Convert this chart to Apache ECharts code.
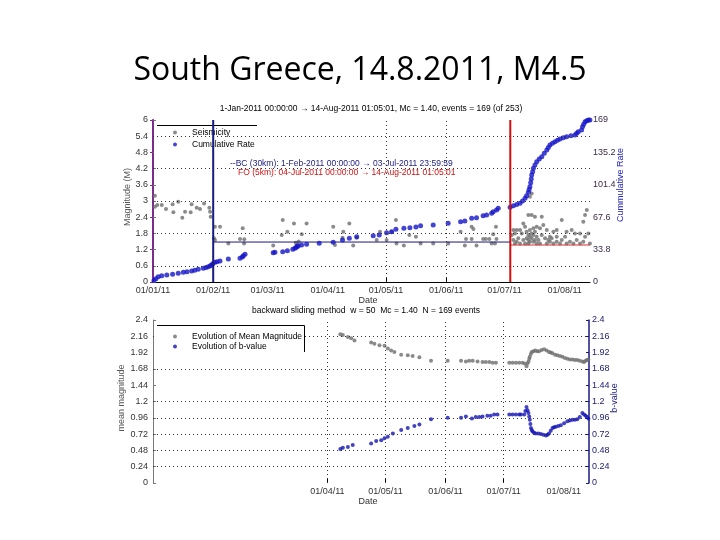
<!DOCTYPE html>
<html><head><meta charset="utf-8">
<script src="https://cdn.jsdelivr.net/npm/echarts@6/dist/echarts.min.js"></script>
<style>html,body{margin:0;padding:0;background:#fff}#c{width:720px;height:540px}</style>
</head><body><div id="c"></div><script>
// x values are days since 1-Jan-2011 00:00:00
const dayMax = 225.045; // 14-Aug-2011 01:05:01
const monthTickDays = [0, 31, 59, 90, 120, 151, 181, 212];
const monthTickLabels = ['01/01/11','01/02/11','01/03/11','01/04/11','01/05/11','01/06/11','01/07/11','01/08/11'];
const topGridDays = [120, 151];
const topGridMags = [0.6, 1.8, 3.0, 4.2, 5.4];
const botLabelDays = [90, 120, 151, 181, 212];
const botGridDays = [90, 120, 151, 181];
const botGridVals = [0.24, 0.48, 0.72, 0.96, 1.2, 1.68, 2.16];

const bcStartDay = 31, foStartDay = 184, bcLevel = 1.48, foLevel = 1.37;

// Seismicity: [day, magnitude]
const seismicity = [
[1.0,3.19],[1.0,2.79],[2.2,2.85],[4.5,2.85],[6.7,2.70],[10.1,2.88],[10.5,2.58],[13.0,2.97],[15.1,2.38],[16.5,2.60],
[19.4,2.58],[19.9,2.88],[22.5,2.75],[24.2,2.70],[26.3,2.91],[29.0,2.75],[29.4,2.60],[29.7,2.42],
[31.9,2.05],[34.5,2.05],[31.4,1.62],[31.9,1.56],[38.8,1.43],[44.8,1.59],[46.2,1.99],[47.0,1.58],[46.9,1.43],
[61.9,1.35],[66.8,2.30],[66.3,1.74],[69.2,1.86],[72.6,2.17],[76.6,1.77],[79.1,2.17],[74.0,1.37],[73.5,1.45],[75.0,1.50],
[92.8,2.05],[93.7,1.37],[98.0,1.86],[97.6,1.64],[101.1,2.17],[103.1,1.35],[104.9,1.64],[115.2,1.56],[116.9,1.86],
[120.3,1.56],[125.1,2.30],[122.9,1.86],[125.4,1.43],[129.2,1.35],[132.0,1.74],[135.4,1.68],[137.8,1.43],[144.3,1.43],
[152.0,1.43],[158.4,1.86],[160.6,1.35],[161.2,1.59],[164.1,2.05],[165.0,1.96],[164.1,1.59],[166.6,1.35],[170.0,1.59],
[171.4,1.59],[173.2,1.59],[174.4,1.43],[175.2,1.77],[176.6,2.05],[176.9,1.59],[176.1,1.43],
[195.0,3.28],[194.1,3.16],[193.3,2.48],[195.0,2.48],[200.2,2.42],[196.7,2.42],[190.7,2.17],[191.6,2.05],[189.0,1.93],
[187.3,1.93],[185.6,1.93],[186.4,1.80],[184.7,1.74],[189.9,1.80],[192.4,1.86],[194.1,1.93],[195.9,1.99],[197.6,2.05],
[199.3,1.99],[201.0,2.11],[195.9,1.74],[193.3,1.74],[195.0,1.62],[196.7,1.56],[194.1,1.49],[191.6,1.43],[189.0,1.43],
[186.4,1.43],[197.6,1.43],[199.3,1.43],[202.8,1.43],[204.4,1.49],[206.2,1.43],[207.9,1.49],[209.6,1.43],[213.0,1.43],
[216.5,1.43],[219.9,1.43],[221.6,1.49],[202.8,1.93],[206.2,1.86],[207.9,1.93],[210.5,2.30],[213.0,1.86],[215.6,1.93],
[217.3,1.80],[219.9,1.80],[221.6,2.23],[222.5,2.48],[223.4,2.67],[204.4,1.68],[207.9,1.68],[200.2,1.74],[201.9,1.62],
[192.4,1.62],[193.3,1.56],[194.1,1.68],[195.0,1.80],[196.7,1.86],[197.6,1.68],[198.5,1.56],[195.9,1.49],[193.3,1.43],
[190.7,1.56],[188.1,1.62],[187.3,1.49],[185.6,1.56],[203.6,1.56],[205.3,1.62],[210.5,1.56],[212.2,1.68],[214.7,1.49],
[218.2,1.56],[222.5,1.68],[224.2,1.80],[225.0,1.43]
];

// Cumulative rate: [day, cumulative number]
const cumulative = [
[0.5,1.5],[1.5,3.5],[2.7,5.5],[4.5,6.6],[7.1,7.3],[10.1,8.0],[13.0,9.0],[15.6,10.1],[17.5,10.8],[19.9,11.5],[21.5,12.3],
[23.3,13.2],[25.9,14.3],[27.3,15.1],[28.5,16.0],[29.5,16.9],[30.2,17.7],[30.8,19.0],[31.9,20.5],[33.0,21.2],[34.5,21.9],
[38.8,24.0],[44.8,24.7],[46.0,26.0],[46.5,27.4],[47.4,28.9],
[61.9,30.6],[62.8,31.0],[66.8,31.6],[69.2,32.7],[72.0,34.2],[73.1,35.2],[73.8,36.3],[74.3,37.0],[74.8,37.9],[76.5,38.6],
[79.1,39.3],[85.6,40.4],
[92.8,41.4],[97.6,43.8],[101.1,45.6],[104.9,47.3],[113.4,48.3],[116.5,49.0],[120.3,51.4],[122.9,52.5],[125.1,55.0],
[129.2,56.0],[132.3,56.6],[135.4,57.4],[137.8,58.7],[144.3,59.5],[152.0,61.2],[158.4,62.9],[160.6,63.6],[164.1,66.4],
[166.6,67.1],[170.0,69.2],[171.8,69.9],[174.4,71.7],[175.2,73.3],[176.9,75.1],[177.8,76.9],
[183.9,78.0],[185.6,79.6],[187.3,80.8],[189.0,82.1],[190.3,84.5],[191.6,87.3],[192.4,90.0],[193.3,93.6],[193.7,96.5],
[194.1,99.4],[194.5,103.5],[194.8,107.5],[195.0,111.6],[195.5,115.0],[195.9,118.6],[196.7,122.0],[197.6,125.5],
[198.9,128.2],[200.2,130.7],[201.5,134.2],[202.8,137.7],[203.6,140.3],[204.4,142.9],[205.7,144.7],[207.0,146.4],
[208.3,147.8],[209.6,149.2],[211.3,150.4],[213.0,151.6],[215.2,152.5],[217.3,153.4],[218.2,155.1],[219.0,156.8],
[220.7,158.6],[221.2,162.0],[221.8,164.6],[222.5,167.2],[223.4,168.3],[224.2,169],[225.0,169]
];

// Evolution of mean magnitude: [day, value]
const meanMag = [
[96.7,2.19],[98.0,2.18],[100.6,2.15],[102.3,2.13],[104.0,2.10],[112.6,2.07],[114.3,2.05],[116.9,2.03],[119.5,2.02],
[121.2,1.98],[122.9,1.95],[124.6,1.93],[128.1,1.89],[131.5,1.88],[134.0,1.87],[137.5,1.85],[143.5,1.80],[152.1,1.80],
[159.0,1.80],[161.5,1.79],[163.2,1.80],[165.0,1.80],[167.5,1.79],[170.1,1.78],[171.8,1.78],[173.6,1.78],[175.3,1.77],
[177.0,1.77],[183.9,1.77],[185.6,1.77],[187.3,1.77],[189.0,1.77],[190.7,1.77],[191.8,1.76],[192.8,1.72],[193.3,1.76],
[193.8,1.79],[194.2,1.83],[194.5,1.86],[195.0,1.90],[195.5,1.93],[196.4,1.94],[197.3,1.95],[198.3,1.94],[199.3,1.94],
[200.6,1.96],[201.9,1.97],[203.2,1.95],[204.4,1.93],[205.3,1.92],[206.2,1.91],[207.5,1.89],[208.7,1.88],[210.0,1.87],
[211.3,1.86],[212.6,1.84],[213.9,1.83],[215.2,1.82],[216.5,1.82],[217.8,1.81],[219.0,1.81],[220.3,1.80],[221.6,1.79],
[222.5,1.78],[223.3,1.80],[224.0,1.81],[224.7,1.82]
];

// Evolution of b-value: [day, value]
const bValue = [
[96.7,0.50],[98.0,0.52],[100.6,0.53],[103.1,0.56],[112.6,0.58],[115.2,0.62],[117.8,0.63],[119.5,0.66],[121.2,0.68],
[123.8,0.73],[128.1,0.78],[131.5,0.81],[134.9,0.84],[137.5,0.86],[143.5,0.94],[152.1,0.96],[159.0,0.96],[161.5,0.98],
[164.6,0.95],[166.6,0.97],[168.4,0.97],[170.1,0.98],[172.6,0.99],[174.3,0.99],[176.1,1.01],[177.8,1.01],[183.9,1.01],
[185.6,1.01],[187.3,1.01],[189.0,1.01],[189.9,1.01],[191.6,1.01],[192.2,1.06],[192.8,1.12],[193.3,1.07],[193.8,1.03],
[194.2,0.98],[194.5,0.93],[194.8,0.87],[195.1,0.81],[195.5,0.78],[195.9,0.76],[196.7,0.74],[197.6,0.73],[198.9,0.73],
[200.2,0.72],[201.5,0.71],[202.8,0.70],[203.6,0.71],[204.4,0.73],[205.3,0.77],[206.2,0.81],[207.0,0.82],[207.9,0.83],
[209.2,0.84],[210.5,0.85],[212.2,0.88],[213.9,0.91],[215.2,0.92],[216.5,0.93],[217.8,0.93],[219.0,0.94],[220.3,0.97],
[221.6,1.03],[222.5,1.01],[223.3,0.99],[224.0,0.97],[224.7,0.95]
];

const FONT = 'Liberation Sans';
const fmtNum = v => String(+(+v).toFixed(2));
const dateLabel = v => { const i = monthTickDays.indexOf(v); return i >= 0 ? monthTickLabels[i] : ''; };
const dotted = { type: [1, 3], color: '#333', width: 1 };
const mlStyle = { silent: true, symbol: 'none', animation: false, label: { show: false }, lineStyle: dotted };

const chart = echarts.init(document.getElementById('c'), null, { renderer: 'canvas' });
const axLabel = { fontSize: 9, color: '#333', fontFamily: FONT };

chart.setOption({
  animation: false,
  backgroundColor: '#fff',
  title: { text: 'South Greece, 14.8.2011, M4.5', left: 'center', top: 50,
    textStyle: { fontFamily: 'Open Sans', fontSize: 32, fontWeight: 'normal', color: '#000' } },
  grid: [
    { left: 153, right: 130, top: 120, height: 162 },
    { left: 153, right: 131, top: 320, height: 163 }
  ],
  legend: [
    { data: ['Seismicity', 'Cumulative Rate'], orient: 'vertical', left: 154, top: 121, itemGap: 3,
      padding: [7, 6, 4, 19], backgroundColor: '#fff',
      itemWidth: 24, itemHeight: 4, icon: 'circle', z: 4,
      textStyle: { fontSize: 8.5, color: '#000', fontFamily: FONT } },
    { data: ['Evolution of Mean Magnitude', 'Evolution of b-value'], orient: 'vertical', left: 154, top: 326,
      padding: [6, 2, 3, 19], backgroundColor: '#fff',
      itemGap: 1, itemWidth: 24, itemHeight: 4, icon: 'circle', z: 10,
      textStyle: { fontSize: 8.5, color: '#000', fontFamily: FONT } }
  ],
  xAxis: [
    { type: 'value', gridIndex: 0, min: 0, max: dayMax, axisLine: { show: false }, splitLine: { show: false },
      axisTick: { show: true, inside: true, length: 4, customValues: topGridDays, lineStyle: { color: '#000' } },
      axisLabel: Object.assign({ customValues: monthTickDays, formatter: dateLabel, margin: 4 }, axLabel) },
    { type: 'value', gridIndex: 1, min: 0, max: dayMax, axisLine: { show: false }, splitLine: { show: false },
      axisTick: { show: true, inside: true, length: 4, customValues: botGridDays, lineStyle: { color: '#000' } },
      axisLabel: Object.assign({ customValues: botLabelDays, formatter: dateLabel, margin: 4 }, axLabel) },
    { type: 'value', gridIndex: 0, position: 'top', min: 0, max: dayMax, axisLine: { show: true, lineStyle: { color: '#000', width: 1 } },
      axisTick: { show: false }, axisLabel: { show: false }, splitLine: { show: false } }
  ],
  yAxis: [
    { type: 'value', gridIndex: 0, min: 0, max: 6, interval: 0.6, splitLine: { show: false },
      axisLine: { show: true, lineStyle: { color: '#777' } },
      axisTick: { show: true, inside: true, length: 3, lineStyle: { color: '#777' } },
      axisLabel: Object.assign({ formatter: fmtNum, margin: 5 }, axLabel) },
    { type: 'value', gridIndex: 0, position: 'right', min: 0, max: 169, interval: 33.8, splitLine: { show: false },
      axisLine: { show: true, lineStyle: { color: '#7b2c8c', width: 2 } },
      axisTick: { show: true, inside: true, length: 3, lineStyle: { color: '#7b2c8c' } },
      axisLabel: Object.assign({}, axLabel, { formatter: v => String(+(+v).toFixed(1)), margin: 3, color: '#3a2a48' }) },
    { type: 'value', gridIndex: 1, min: 0, max: 2.4, interval: 0.24, splitLine: { show: false },
      axisLine: { show: true, lineStyle: { color: '#777' } },
      axisTick: { show: true, inside: true, length: 3, lineStyle: { color: '#777' } },
      axisLabel: Object.assign({ formatter: fmtNum, margin: 5 }, axLabel) },
    { type: 'value', gridIndex: 1, position: 'right', min: 0, max: 2.4, interval: 0.24, splitLine: { show: false },
      axisLine: { show: true, lineStyle: { color: '#1a1a80', width: 1.5 } },
      axisTick: { show: true, inside: true, length: 3, lineStyle: { color: '#1a1a80' } },
      axisLabel: Object.assign({}, axLabel, { formatter: fmtNum, margin: 3, color: '#1a1a70' }) }
  ],
  series: [
    { name: 'Seismicity', type: 'scatter', xAxisIndex: 0, yAxisIndex: 0, data: seismicity, symbolSize: 4,
      itemStyle: { color: '#6e6e6e' }, z: 2,
      markLine: Object.assign({ data: topGridMags.map(v => ({ yAxis: v })).concat(topGridDays.map(d => ({ xAxis: d }))) }, mlStyle) },
    { name: 'Cumulative Rate', type: 'scatter', xAxisIndex: 0, yAxisIndex: 1, data: cumulative, symbolSize: 5,
      itemStyle: { color: '#1515c8' }, z: 3 },
    { name: 'BC period', type: 'line', xAxisIndex: 0, yAxisIndex: 0, data: [[bcStartDay, 0], [bcStartDay, 6]],
      showSymbol: false, lineStyle: { color: '#1a1a80', width: 2 }, z: 7 },
    { name: 'BC level', type: 'line', xAxisIndex: 0, yAxisIndex: 0, data: [[bcStartDay, bcLevel], [foStartDay, bcLevel]],
      showSymbol: false, lineStyle: { color: '#1a1a80', width: 1 }, z: 3 },
    { name: 'FO period', type: 'line', xAxisIndex: 0, yAxisIndex: 0, data: [[foStartDay, 0], [foStartDay, 6]],
      showSymbol: false, lineStyle: { color: '#d01010', width: 2 }, z: 7 },
    { name: 'FO level', type: 'line', xAxisIndex: 0, yAxisIndex: 0, data: [[foStartDay, foLevel], [dayMax, foLevel]],
      showSymbol: false, lineStyle: { color: '#d03030', width: 1 }, z: 3 },
    { name: 'Evolution of Mean Magnitude', type: 'scatter', xAxisIndex: 1, yAxisIndex: 2, data: meanMag, symbolSize: 4,
      itemStyle: { color: '#6e6e6e' }, z: 2,
      markLine: Object.assign({ data: botGridVals.map(v => ({ yAxis: v })).concat(botGridDays.map(d => ({ xAxis: d }))) }, mlStyle) },
    { name: 'Evolution of b-value', type: 'scatter', xAxisIndex: 1, yAxisIndex: 3, data: bValue, symbolSize: 4,
      itemStyle: { color: '#1414b4' }, z: 3 }
  ],
  graphic: [
    { type: 'line', shape: { x1: 157, y1: 125.5, x2: 257, y2: 125.5 }, style: { stroke: '#000', lineWidth: 1 }, z: 6 },
    { type: 'polyline', shape: { points: [[157, 325.5], [304.5, 325.5], [304.5, 352]] }, style: { stroke: '#000', lineWidth: 1, fill: null }, z: 12 },
    { type: 'text', x: 371, y: 109, z: 8, style: { text: '1-Jan-2011 00:00:00 \u2192 14-Aug-2011 01:05:01, Mc = 1.40, events = 169 (of 253)',
      fontSize: 8.5, fontFamily: FONT, fill: '#000', align: 'center', verticalAlign: 'middle' } },
    { type: 'text', x: 230, y: 164, z: 8, style: { text: '--BC (30km): 1-Feb-2011 00:00:00 \u2192 03-Jul-2011 23:59:59',
      fontSize: 8.5, fontFamily: FONT, fill: '#1a1a80', align: 'left', verticalAlign: 'middle' } },
    { type: 'text', x: 238, y: 173, z: 8, style: { text: 'FO (5km): 04-Jul-2011 00:00:00 \u2192 14-Aug-2011 01:05:01',
      fontSize: 8.5, fontFamily: FONT, fill: '#d01010', align: 'left', verticalAlign: 'middle' } },
    { type: 'text', x: 128, y: 197, rotation: Math.PI / 2, z: 8, style: { text: 'Magnitude (M)',
      fontSize: 9, fontFamily: FONT, fill: '#555', align: 'center', verticalAlign: 'middle' } },
    { type: 'text', x: 621, y: 185, rotation: Math.PI / 2, z: 8, style: { text: 'Cummulative Rate',
      fontSize: 9, fontFamily: FONT, fill: '#2222b0', align: 'center', verticalAlign: 'middle' } },
    { type: 'text', x: 368, y: 301, z: 8, style: { text: 'Date',
      fontSize: 9, fontFamily: FONT, fill: '#333', align: 'center', verticalAlign: 'middle' } },
    { type: 'text', x: 366, y: 311, z: 8, style: { text: 'backward sliding method  w = 50  Mc = 1.40  N = 169 events',
      fontSize: 8.5, fontFamily: FONT, fill: '#000', align: 'center', verticalAlign: 'middle' } },
    { type: 'text', x: 122, y: 398, rotation: Math.PI / 2, z: 8, style: { text: 'mean magnitude',
      fontSize: 9, fontFamily: FONT, fill: '#555', align: 'center', verticalAlign: 'middle' } },
    { type: 'text', x: 615, y: 398, rotation: Math.PI / 2, z: 8, style: { text: 'b-value',
      fontSize: 9, fontFamily: FONT, fill: '#1a1a80', align: 'center', verticalAlign: 'middle' } },
    { type: 'text', x: 368, y: 502, z: 8, style: { text: 'Date',
      fontSize: 9, fontFamily: FONT, fill: '#333', align: 'center', verticalAlign: 'middle' } }
  ]
});
</script></body></html>
